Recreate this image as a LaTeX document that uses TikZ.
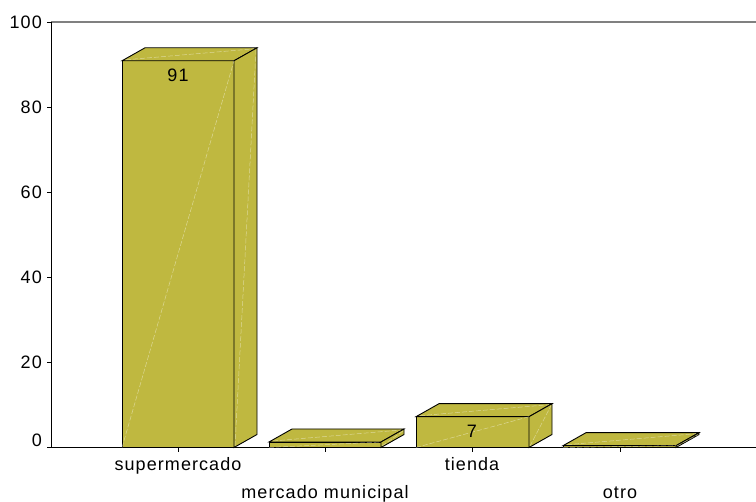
\documentclass[tikz,border=0pt]{standalone}
\usepackage{fontspec}
\setmainfont[LetterSpace=6]{Liberation Sans}
\definecolor{barcol}{RGB}{191,184,64}
\definecolor{gridgrey}{RGB}{128,128,128}
\newcommand{\barbox}[3]{% #1 left x, #2 right x, #3 top y
  \filldraw[barface] (#1,447.5) rectangle (#2,#3);
  \filldraw[barface] (#1,#3) -- ({#1+23},{#3-13}) -- ({#2+23},{#3-13}) -- (#2,#3) -- cycle;
  \filldraw[barface] (#2,447.5) -- ({#2+23},434.5) -- ({#2+23},{#3-13}) -- (#2,#3) -- cycle;
  \draw[glint] (#1,447.5) -- (#2,#3);
  \draw[glint] ({#1+4},{#3-1}) -- ({#2+20},{#3-12});
  \draw[glint] ({#2+1},446) -- ({#2+22},{#3-11});
}
\begin{document}
\begin{tikzpicture}[x=1pt,y=-1pt,
  font=\fontsize{18}{20}\selectfont,
  barface/.style={fill=barcol,draw=black,line width=0.9pt,line join=miter},
  glint/.style={draw=white,opacity=0.45,line width=0.5pt,dash pattern=on 5pt off 2pt},
  axisline/.style={draw=black,line width=0.9pt},
  ylab/.style={anchor=base east,inner sep=0pt},
  xlab/.style={anchor=base,inner sep=0pt},
  vlab/.style={anchor=base,inner sep=0pt}]
\useasboundingbox (0,0) rectangle (756,502);
% frame lines
\draw[gridgrey,line width=1.3pt] (51,22) -- (756,22);
\draw[axisline] (51,22) -- (51,447.5);
\draw[axisline] (51,447.5) -- (756,447.5);
% y ticks
\foreach \v in {0,20,40,60,80,100}{
  \draw[axisline] (47,{447.5-\v*4.255}) -- (51,{447.5-\v*4.255});
}
% y labels
\node[ylab] (y100) at (42,{447.5-100*4.255+6.3}) {100};
\node[ylab] (y80) at (42,{447.5-80*4.255+6.3}) {80};
\node[ylab] (y60) at (42,{447.5-60*4.255+6.3}) {60};
\node[ylab] (y40) at (42,{447.5-40*4.255+6.3}) {40};
\node[ylab] (y20) at (42,{447.5-20*4.255+6.3}) {20};
\node[ylab] (y0) at (42,447) {0};
% x ticks
\foreach \x in {178,325,472,620}{
  \draw[axisline] (\x,447.5) -- (\x,452.5);
}
% bars
\barbox{122}{234}{60.8}
\barbox{269}{381}{442}
\barbox{416}{529}{416.7}
\barbox{563}{676}{445.7}
% value labels
\node[vlab] (v91) at (178,82) {91};
\node[vlab] (v7) at (472,437.7) {7};
% category labels
\node[xlab] (c1) at (178,471) {supermercado};
\node[xlab] (c2) at (325,499) {mercado municipal};
\node[xlab] (c3) at (472,471) {tienda};
\node[xlab] (c4) at (620,499) {otro};
\end{tikzpicture}
\end{document}
